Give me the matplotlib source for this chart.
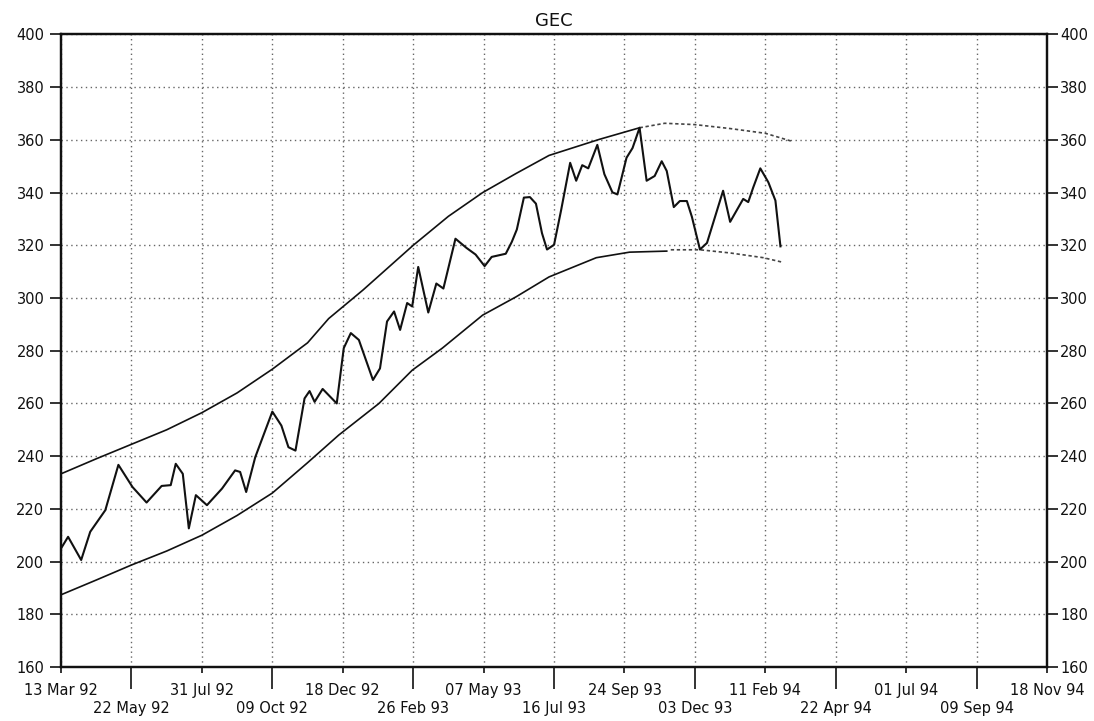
import datetime as dt
import numpy as np
import matplotlib
matplotlib.use("Agg")
import matplotlib.pyplot as plt
import matplotlib.dates as mdates
from matplotlib.ticker import FixedLocator, FixedFormatter, MultipleLocator

# ---- data -------------------------------------------------------------
title = "GEC"
start_date = "13 Mar 92"

# x-axis labels: first row (major) and second row (minor)
row1_labels = ["13 Mar 92", "31 Jul 92", "18 Dec 92", "07 May 93",
               "24 Sep 93", "11 Feb 94", "01 Jul 94", "18 Nov 94"]
row2_labels = ["22 May 92", "09 Oct 92", "26 Feb 93", "16 Jul 93",
               "03 Dec 93", "22 Apr 94", "09 Sep 94"]

y_ticks = list(range(160, 401, 20))

# share price, days after the start date
price_days = [0, 7, 20, 29, 44, 57, 71, 85, 100, 109, 114, 121, 127, 134,
              145, 160, 173, 178, 184, 193, 210, 219, 226, 233, 242, 247,
              252, 260, 274, 281, 288, 296, 310, 317, 324, 331, 337, 344,
              349, 355, 365, 373, 380, 392, 403, 412, 421, 428, 442, 448,
              453, 460, 466, 472, 478, 483, 490, 497, 506, 512, 518, 524,
              533, 540, 548, 553, 562, 568, 575, 582, 590, 597, 602, 609,
              615, 622, 627, 635, 642, 658, 665, 678, 683, 688, 695, 703,
              710, 715]
price_values = [205, 209.4, 200.6, 211.3, 219.5, 236.7, 228.3, 222.4, 228.7,
                229, 237.1, 233.3, 212.6, 225.2, 221.4, 227.7, 234.6, 234,
                226.4, 239.6, 256.9, 251.6, 243.4, 242.1, 261.9, 264.7,
                260.6, 265.5, 260, 281, 286.7, 284.1, 268.9, 273.3, 291.1,
                294.9, 287.9, 298.1, 296.8, 311.8, 294.5, 305.5, 303.6,
                322.5, 319, 316.5, 312.1, 315.6, 316.8, 321.3, 326, 338.1,
                338.3, 335.8, 324.6, 318.4, 320.2, 333.3, 351.3, 344.5,
                350.4, 349.2, 358.1, 347, 340.1, 339.3, 353.2, 356.9, 364.6,
                344.5, 346.3, 351.9, 348.2, 334.5, 336.8, 336.8, 330.8,
                318.4, 320.9, 340.7, 328.9, 337.6, 336.4, 342, 349.2, 343.9,
                337, 319.6]

# upper channel line (fitted part and projected part)
upper_days = [0, 35, 70, 105, 140, 175, 210, 245, 266, 300, 350, 385, 419,
              452, 485, 535, 575]
upper_values = [233.3, 239, 244.5, 250, 256.5, 264, 273, 283, 292.2, 303,
                320, 331, 340, 347.2, 354.1, 360.2, 364.6]
upper_proj_days = [575, 600, 630, 665, 700, 727]
upper_proj_values = [364.6, 366.3, 365.8, 364.3, 362.5, 359.4]

# lower channel line (fitted part and projected part)
lower_days = [0, 35, 70, 105, 140, 175, 210, 245, 276, 316, 349, 379, 419,
              452, 485, 532, 565, 602]
lower_values = [187.4, 193, 198.7, 204, 210, 217.5, 226, 237.5, 248, 260,
                272.6, 281, 293.5, 300.4, 308, 315.3, 317.4, 317.8]
lower_proj_days = [606, 635, 665, 698, 718]
lower_proj_values = [318.3, 318.3, 317.1, 315.3, 313.5]

# ---- helpers ----------------------------------------------------------
def parse(label):
    return dt.datetime.strptime(label, "%d %b %y")

t0 = parse(start_date)

def to_dates(days):
    return [t0 + dt.timedelta(days=d) for d in days]

# ---- figure -----------------------------------------------------------
plt.rcParams["font.family"] = ["DejaVu Sans"]
fig = plt.figure(figsize=(10.94, 7.21), dpi=100)
ax = fig.add_axes([0.0558, 0.0749, 0.9013, 0.8773])

ink = "#111111"
grid_c = "#666666"

ax.plot(to_dates(price_days), price_values, color=ink, lw=1.5,
        solid_joinstyle="round", zorder=4)
ax.plot(to_dates(upper_days), upper_values, color=ink, lw=1.2, zorder=3)
ax.plot(to_dates(lower_days), lower_values, color=ink, lw=1.2, zorder=3)
ax.plot(to_dates(upper_proj_days), upper_proj_values, color="#444444",
        lw=1.2, linestyle=(0, (2.0, 1.6)), zorder=3)
ax.plot(to_dates(lower_proj_days), lower_proj_values, color="#444444",
        lw=1.2, linestyle=(0, (2.0, 1.6)), zorder=3)

# axes limits
x_first = mdates.date2num(parse(row1_labels[0]))
x_last = mdates.date2num(parse(row1_labels[-1]))
ax.set_xlim(x_first, x_last)
ax.set_ylim(160, 400)

# x ticks in two staggered rows
major_pos = [mdates.date2num(parse(s)) for s in row1_labels]
minor_pos = [mdates.date2num(parse(s)) for s in row2_labels]
ax.xaxis.set_major_locator(FixedLocator(major_pos))
ax.xaxis.set_major_formatter(FixedFormatter(row1_labels))
ax.xaxis.set_minor_locator(FixedLocator(minor_pos))
ax.xaxis.set_minor_formatter(FixedFormatter(row2_labels))
ax.tick_params(axis="x", which="major", length=4.3, width=1.2, pad=7,
               labelsize=10.5, colors=ink, direction="out")
ax.tick_params(axis="x", which="minor", length=15.5, width=1.2, pad=9,
               labelsize=10.5, colors=ink, direction="out")

# y ticks on both sides
ax.set_yticks(y_ticks)
ax.tick_params(axis="y", which="major", length=8, width=1.2, pad=4,
               labelsize=10.5, colors=ink, direction="out")
axr = ax.twinx()
axr.set_ylim(ax.get_ylim())
axr.set_yticks(y_ticks)
axr.tick_params(axis="y", which="major", length=8, width=1.2, pad=1.5,
                labelsize=10.5, colors=ink, direction="out")

# dotted grid
ax.grid(True, which="major", axis="both", color=grid_c, lw=1.0,
        linestyle=(0, (1, 2.5)))
ax.grid(True, which="minor", axis="x", color=grid_c, lw=1.0,
        linestyle=(0, (1, 2.5)))

for a in (ax, axr):
    for side in ("left", "right", "top", "bottom"):
        a.spines[side].set_color(ink)
        a.spines[side].set_linewidth(1.6)

ax.set_title(title, fontsize=13, color=ink, pad=6)

fig.savefig("out.png", dpi=100)
